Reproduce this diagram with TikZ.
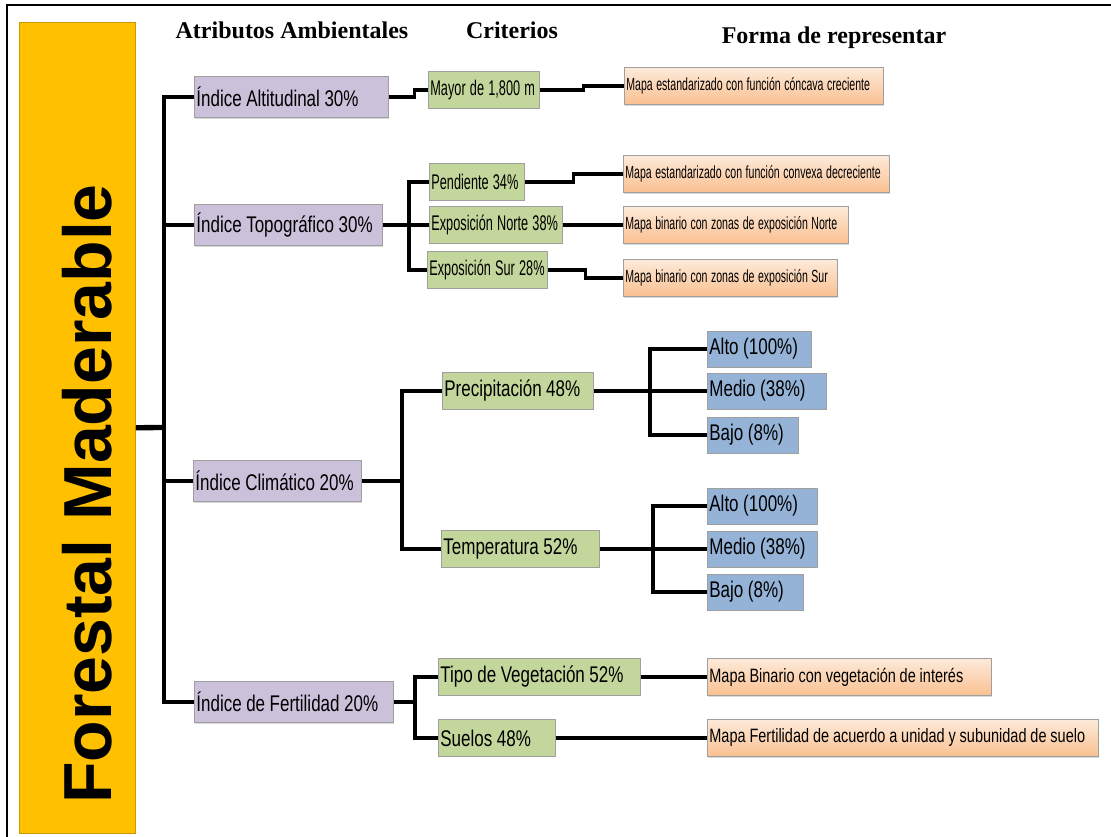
\documentclass[tikz,border=0pt]{standalone}
\usepackage{fontspec}
\setmainfont{Liberation Sans}
\newfontfamily\wfont{Liberation Sans}[FakeStretch=0.75]
\newfontfamily\nfont{Liberation Sans}[FakeStretch=0.6]
\newfontfamily\hfont{Liberation Serif}
\usepackage{tikz}
\usetikzlibrary{positioning,shadows,calc}
\definecolor{titulo}{HTML}{FFC000}
\definecolor{lila}{HTML}{CCC1DA}
\definecolor{verde}{HTML}{C3D69B}
\definecolor{azul}{HTML}{95B3D7}
\definecolor{naranjaA}{HTML}{FDEADA}
\definecolor{naranjaB}{HTML}{FAC090}

\begin{document}
\begin{tikzpicture}[x=0.75pt,y=-0.75pt]
            % Define the style for the blocks
            \tikzstyle{block} = [rectangle, draw=gray!75, line width=0.6pt, anchor=west, align=left, inner xsep=1.5pt, inner ysep=0pt,
                                 execute at begin node={\spaceskip=0.2em\relax\leavevmode\hbox\bgroup}, execute at end node={\egroup},
                                 drop shadow={opacity=0.3, shadow xshift=0.8pt, shadow yshift=-0.8pt}]
            \tikzstyle{attr} = [block, fill=lila, minimum height=30.75pt, font=\wfont\fontsize{17}{20}\selectfont]
            \tikzstyle{crit} = [block, fill=verde, minimum height=27.5pt, font=\wfont\fontsize{17}{20}\selectfont]
            \tikzstyle{critn} = [block, fill=verde, minimum height=27.5pt, font=\nfont\fontsize{15.9}{18}\selectfont]
            \tikzstyle{forma} = [block, top color=naranjaA, bottom color=naranjaB, minimum height=27.75pt, font=\wfont\fontsize{14.5}{17}\selectfont]
            \tikzstyle{forman} = [block, top color=naranjaA, bottom color=naranjaB, minimum height=27.75pt, font=\nfont\fontsize{13.2}{16}\selectfont]
            \tikzstyle{nivel} = [block, fill=azul, minimum height=27pt, font=\wfont\fontsize{17}{20}\selectfont]
            \tikzstyle{cabecera} = [font=\hfont\bfseries\fontsize{18}{20}\selectfont]
            \tikzstyle{linea} = [line width=2.4pt]

            \useasboundingbox (0,0) rectangle (1111,837);
            \draw[line width=1.2pt] (7,5) rectangle (1130,860);

            % Title block
            \node[fill=titulo, draw=titulo!80!black, line width=0.6pt, minimum width=87pt, minimum height=608pt, anchor=north west, inner sep=0pt] (forestal) at (19,22) {};
            \node[rotate=90, font=\bfseries\fontsize{51}{60}\selectfont] (tituloTxt) at (87,494) {Forestal Maderable};

            % Headers
            \node[cabecera] (hAtrib) at (292,30) {Atributos Ambientales};
            \node[cabecera] (hCrit) at (512,30) {Criterios};
            \node[cabecera] (hForma) at (834,38) {Forma de representar};

            % Nodes position
            \node[attr, text width=142.5pt] (altitud) at (194,97) {Índice Altitudinal 30\%};
            \node[attr, text width=138pt] (topo) at (194,225) {Índice Topográfico 30\%};
            \node[attr, text width=123pt] (clima) at (193,481) {Índice Climático 20\%};
            \node[attr, text width=146.25pt] (fertil) at (194,702) {Índice de Fertilidad 20\%};

            \node[critn, text width=80.25pt] (mayor) at (428,90) {Mayor de 1,800 m};
            \node[critn, text width=68.25pt] (pend) at (429,182) {Pendiente 34\%};
            \node[critn, text width=96.75pt] (norte) at (429,225) {Exposición Norte 38\%};
            \node[critn, text width=87pt] (sur) at (427,270) {Exposición Sur 28\%};
            \node[crit, text width=110.25pt] (prec) at (442,391) {Precipitación 48\%};
            \node[crit, text width=115.5pt] (temp) at (441,549) {Temperatura 52\%};
            \node[crit, text width=148.5pt] (tipo) at (438,677) {Tipo de Vegetación 52\%};
            \node[crit, text width=84.75pt] (suelos) at (438,738) {Suelos 48\%};

            \node[forman, text width=191.25pt] (mapaConcava) at (624,86) {Mapa estandarizado con función cóncava creciente};
            \node[forman, text width=196.5pt] (mapaConvexa) at (623,174) {Mapa estandarizado con función convexa decreciente};
            \node[forman, text width=165.75pt] (mapaNorte) at (623,225) {Mapa binario con zonas de exposición Norte};
            \node[forman, text width=157.5pt] (mapaSur) at (623,278) {Mapa binario con zonas de exposición Sur};
            \node[forma, text width=210pt] (mapaVeg) at (707,677) {Mapa Binario con vegetación de interés};
            \node[forma, text width=290.25pt] (mapaSuelo) at (707,738) {Mapa Fertilidad de acuerdo a unidad y subunidad de suelo};

            \node[nivel, text width=75pt] (alto1) at (707,349) {Alto (100\%)};
            \node[nivel, text width=86.25pt] (medio1) at (707,391) {Medio (38\%)};
            \node[nivel, text width=65.25pt] (bajo1) at (707,435) {Bajo (8\%)};
            \node[nivel, text width=79.5pt] (alto2) at (707,506) {Alto (100\%)};
            \node[nivel, text width=79.5pt] (medio2) at (707,549) {Medio (38\%)};
            \node[nivel, text width=69pt] (bajo2) at (707,592) {Bajo (8\%)};

            % Branch points
            \coordinate (trunk) at (164,427.5);
            \coordinate (topoBr) at (409,225);
            \coordinate (climaBr) at (402,481);
            \coordinate (precBr) at (650,391);
            \coordinate (tempBr) at (653,549);
            \coordinate (fertilBr) at (415,702);

            % Lines
            \draw[line width=4pt] (forestal.east) -- (trunk);
            \draw[linea] (altitud.west) -| (trunk) |- (fertil.west);
            \draw[linea] (topo.west) -| (trunk);
            \draw[linea] (clima.west) -| (trunk);

            \draw[linea] (altitud.east) -- ++(26,0) |- (mayor.west);
            \draw[linea] (mayor.east) -- ++(44,0) |- (mapaConcava.west);

            \draw[linea] (topo.east) -- (norte.west);
            \draw[linea] (pend.west) -| (topoBr) |- (sur.west);
            \draw[linea] (pend.east) -- ++(49,0) |- (mapaConvexa.west);
            \draw[linea] (norte.east) -- (mapaNorte.west);
            \draw[linea] (sur.east) -- ++(38,0) |- (mapaSur.west);

            \draw[linea] (clima.east) -- (climaBr);
            \draw[linea] (prec.west) -| (climaBr) |- (temp.west);
            \draw[linea] (prec.east) -- (medio1.west);
            \draw[linea] (alto1.west) -| (precBr) |- (bajo1.west);
            \draw[linea] (temp.east) -- (medio2.west);
            \draw[linea] (alto2.west) -| (tempBr) |- (bajo2.west);

            \draw[linea] (fertil.east) -- (fertilBr);
            \draw[linea] (tipo.west) -| (fertilBr) |- (suelos.west);
            \draw[linea] (tipo.east) -- (mapaVeg.west);
            \draw[linea] (suelos.east) -- (mapaSuelo.west);
\end{tikzpicture}
\end{document}
